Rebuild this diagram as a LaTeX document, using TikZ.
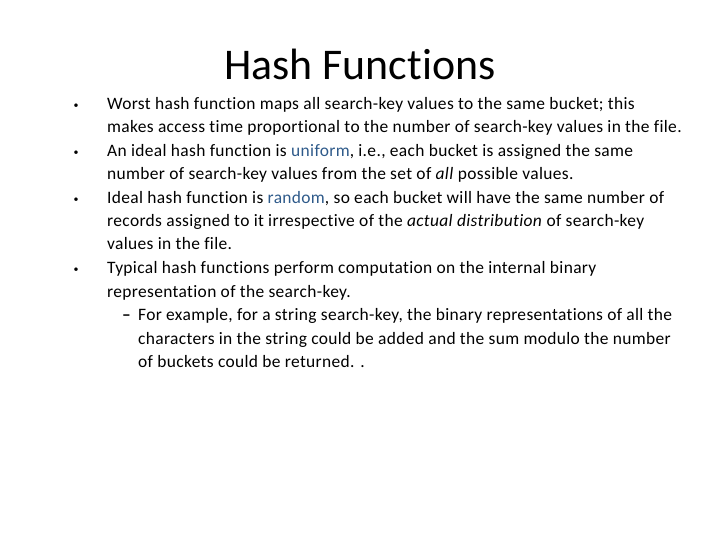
\documentclass[tikz,border=0pt]{standalone}
\usepackage{fontspec}
\setmainfont{Carlito}[Ligatures=NoCommon,LetterSpace=2]
\definecolor{kw}{HTML}{2E5A8A}
\begin{document}
\begin{tikzpicture}[x=1bp,y=-1bp,
  ln/.style={anchor=base west,inner sep=0pt,font=\fontsize{17.5}{20}\selectfont},
  bl/.style={anchor=base,inner sep=0pt,font=\fontsize{10}{12}\selectfont}]
\useasboundingbox (0,0) rectangle (720,540);
\node[anchor=base,inner sep=0pt,font=\fontsize{44}{50}\selectfont\addfontfeature{LetterSpace=0}] (title) at (360,80) {Hash Functions};
\foreach \y/\n in {109/b1,156/b2,203/b3,273/b4} \node[bl] (\n) at (76,\y) {•};
\node[ln] (l1) at (107,110) {Worst hash function maps all search-key values to the same bucket; this};
\node[ln] (l2) at (107,133) {makes access time proportional to the number of search-key values in the file.};
\node[ln] (l3) at (107,157) {An ideal hash function is \textcolor{kw}{uniform}, i.e., each bucket is assigned the same};
\node[ln] (l4) at (107,180) {number of search-key values from the set of \textit{all} possible values.};
\node[ln] (l5) at (107,204) {Ideal hash function is \textcolor{kw}{random}, so each bucket will have the same number of};
\node[ln] (l6) at (107,227) {records assigned to it irrespective of the \textit{actual distribution} of search-key};
\node[ln] (l7) at (107,250) {values in the file.};
\node[ln] (l8) at (107,274) {Typical hash functions perform computation on the internal binary};
\node[ln] (l9) at (107,297) {representation of the search-key.};
\node[ln] (d) at (122,320) {\textbf{–}};
\node[ln] (l10) at (138,320) {For example, for a string search-key, the binary representations of all the};
\node[ln] (l11) at (138,344) {characters in the string could be added and the sum modulo the number};
\node[ln] (l12) at (138,367) {of buckets could be returned. .};
\end{tikzpicture}
\end{document}
